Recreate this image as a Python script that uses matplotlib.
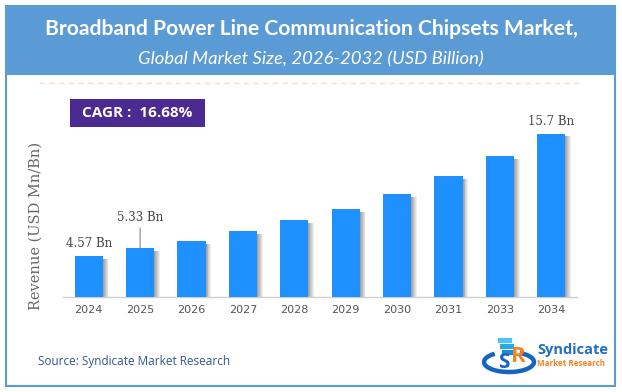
import matplotlib
matplotlib.use("Agg")
import matplotlib.pyplot as plt
from matplotlib.patches import Rectangle, Arc
from matplotlib.lines import Line2D

years = ["2024", "2025", "2026", "2027", "2028", "2029", "2030", "2031", "2033", "2034"]
values = [4.57, 5.33, 5.93, 6.84, 7.87, 8.87, 10.23, 11.83, 13.65, 15.7]
labels = {0: "4.57 Bn", 1: "5.33 Bn", 9: "15.7 Bn"}
title = "Broadband Power Line Communication Chipsets Market,"
subtitle = "Global Market Size, 2026-2032 (USD Billion)"
cagr_text = "CAGR :  16.68%"
ylabel = "Revenue (USD Mn/Bn)"
source = "Source: Syndicate Market Research"

W, H = 622, 392
fig = plt.figure(figsize=(W / 100, H / 100), dpi=100)
fig.patch.set_facecolor("white")

def fx(px):
    return px / W

def fy(py):
    return 1 - py / H

# frame
fig.patches.append(Rectangle((fx(6), fy(386)), fx(609), 380 / H, transform=fig.transFigure,
                             facecolor="none", edgecolor="#5B9BD5", linewidth=1.5, zorder=-5))
# title band
fig.patches.append(Rectangle((fx(6), fy(75)), fx(609), 69 / H, transform=fig.transFigure,
                             facecolor="#5B9BD5", edgecolor="none", zorder=-4))
fig.text(0.5, fy(29), title, ha="center", va="center", color="white",
         fontsize=15.2, fontweight="bold", family="Lato")
fig.text(0.5, fy(59), subtitle, ha="center", va="center", color="white",
         fontsize=13.3, fontstyle="italic", family="Lato")
fig.lines.append(Line2D([fx(39), fx(579)], [fy(83), fy(83)], transform=fig.transFigure,
                        color="#F4B183", linestyle=(0, (4, 3)), linewidth=1.0, alpha=0.45))

# axes
ax_left, ax_right, ax_bot, ax_top = 63, 577, 297, 120
ax = fig.add_axes([fx(ax_left), fy(ax_bot), fx(ax_right - ax_left), (ax_bot - ax_top) / H])
ax.set_facecolor("none")
x = list(range(len(years)))
bw = 0.55
ybot = 0.89
ytop = ybot + (ax_bot - ax_top) / 11.03

nsh = 6
dx = 0.11 / nsh
for k in range(nsh):
    ax.bar([xi + bw / 2 + k * dx for xi in x], [v - 0.25 - ybot for v in values], width=dx,
           bottom=ybot, align="edge", color="#555555", alpha=0.55 * (1 - k / nsh), linewidth=0, zorder=2)
ax.bar(x, [v - ybot for v in values], bottom=ybot, width=bw, color="#1E90FF", linewidth=0, zorder=3)

ax.set_xlim(-0.5, len(years) - 0.5)
ax.set_ylim(ybot, ytop)
for s in ["top", "right", "left"]:
    ax.spines[s].set_visible(False)
ax.spines["bottom"].set_color("#D0D0D0")
ax.spines["bottom"].set_linewidth(1.0)
ax.set_yticks([])
ax.set_xticks(x)
ax.set_xticklabels(years, color="#555555", fontsize=8, family="DejaVu Sans")
ax.tick_params(axis="x", length=0, pad=6)

for i, txt in labels.items():
    if i == 1:
        ax.annotate(txt, xy=(x[i], values[i]), xytext=(x[i], values[i] + 2.2),
                    ha="center", va="bottom", fontsize=8.5, family="DejaVu Serif", color="#444444",
                    arrowprops=dict(arrowstyle="-", color="#888888", lw=0.8, shrinkA=1, shrinkB=0))
    else:
        ax.text(x[i], values[i] + 0.55, txt, ha="center", va="bottom",
                fontsize=8.5, family="DejaVu Serif", color="#444444")

fig.text(fx(36), fy(226), ylabel, rotation=90, ha="center", va="center",
         fontsize=10.5, family="DejaVu Serif", color="#666666")

# CAGR box
fig.patches.append(Rectangle((fx(70), fy(127)), fx(135), 28 / H, transform=fig.transFigure,
                             facecolor="#4B2A91", edgecolor="none", zorder=5))
fig.text(fx(137.5), fy(113), cagr_text, ha="center", va="center", color="white",
         fontsize=11, fontweight="bold", family="Open Sans", zorder=6)

fig.text(fx(38), fy(362), source, ha="left", va="center", color="#2F5597",
         fontsize=8.5, family="Open Sans")

# logo
lax = fig.add_axes([fx(482), fy(376), fx(56), 42 / H])
lax.set_xlim(0, 56)
lax.set_ylim(0, 42)
lax.axis("off")
lax.add_patch(Arc((27, 14), 50, 20, theta1=150, theta2=400, color="#1565C0", lw=3.2))
for j, c in enumerate(["#4FC3F7", "#29A9E1", "#1E88E5"]):
    lax.add_patch(Rectangle((15 + j * 2, 33 - j * 6), 15, 6, facecolor=c, edgecolor="white", lw=0.6))
lax.text(22, 13, "S", fontsize=15, fontweight="bold", color="#1565C0", ha="center", va="center", family="Open Sans")
lax.text(36, 19, "R", fontsize=16, fontweight="bold", color="#F58220", ha="center", va="center", family="Open Sans")
fig.text(fx(537), fy(350), "Syndicate", ha="left", va="center", color="#1F6FC5",
         fontsize=10.5, fontweight="bold", family="Open Sans")
fig.text(fx(537), fy(364), "Market Research", ha="left", va="center", color="#F58220",
         fontsize=5.8, fontweight="bold", family="Open Sans")

fig.savefig("out.png", dpi=100)
